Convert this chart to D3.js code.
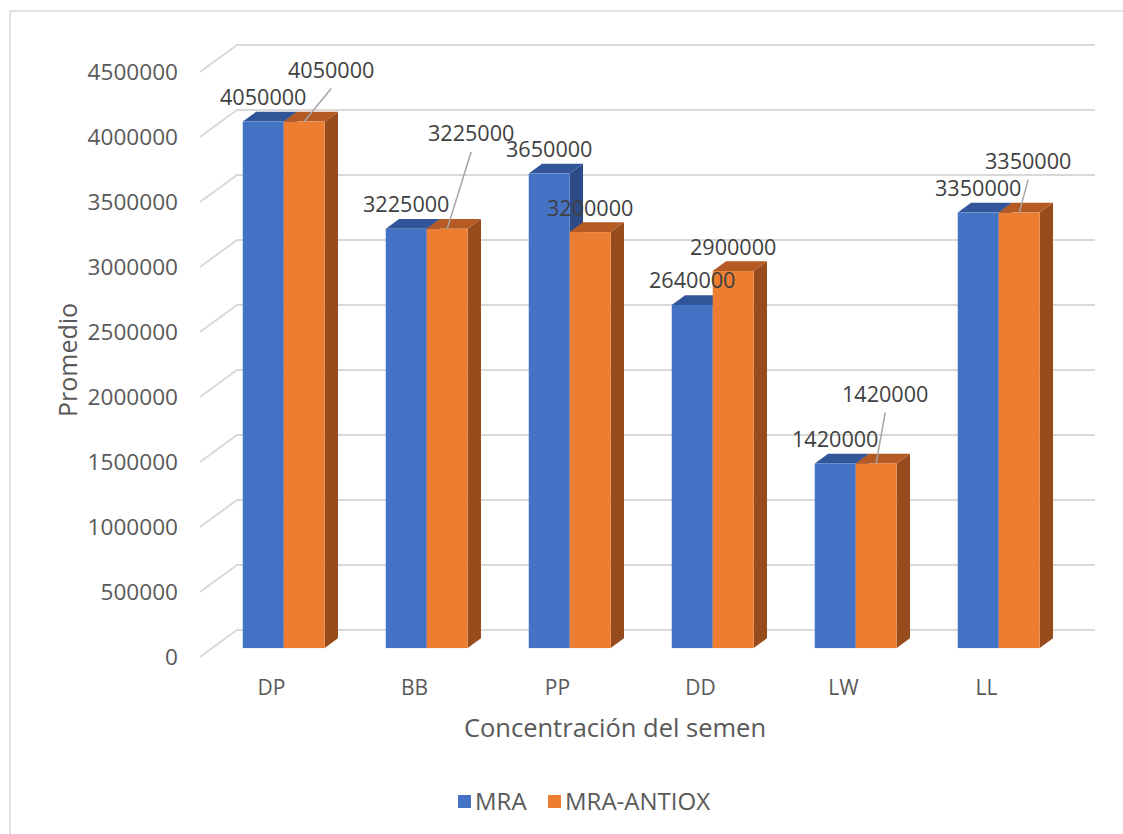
<!DOCTYPE html>
<html lang="es">
<head>
  <meta charset="utf-8">
  <title>Concentración del semen</title>
  <script src="https://d3js.org/d3.v7.min.js"></script>
  <style>
    body { margin:0; background:#fff; }
    text { font-family: "Open Sans", sans-serif; }
  </style>
</head>
<body>
<script>
// datos
var categories = ['DP','BB','PP','DD','LW','LL'];
var seriesNames = ['MRA','MRA-ANTIOX'];
var mra = [4050000, 3225000, 3650000, 2640000, 1420000, 3350000];
var mraAntiox = [4050000, 3225000, 3200000, 2900000, 1420000, 3350000];
var yTicks = [0,500000,1000000,1500000,2000000,2500000,3000000,3500000,4000000,4500000];

// etiquetas movidas a mano (serie 1) -> [dx, dy] respecto a la posición normal
var movedLabels = { 'MRA-ANTIOX|DP':[27,-27], 'MRA-ANTIOX|BB':[24,-71], 'MRA-ANTIOX|LW':[9,-45], 'MRA-ANTIOX|LL':[9,-27] };

var width = 1123, height = 834;
var DX = 37, DY = 27;          // profundidad del "3D"
var z1 = 0.33, z2 = 0.69;      // profundidad de las barras

var colors = {
  'MRA':        { front:'#4472C4', top:'#32559A', side:'#2D4B86' },
  'MRA-ANTIOX': { front:'#ED7D31', top:'#B55A22', side:'#984C1D' }
};

var svg = d3.select('body').append('svg')
  .attr('width', width).attr('height', height);

// marco
svg.append('rect').attr('x', 10).attr('y', 11).attr('width', 1130).attr('height', 840)
  .attr('fill', 'none').attr('stroke', '#d9d9d9').attr('stroke-width', 1.5);

var x0 = d3.scaleBand().domain(categories).range([200, 1058]).paddingInner(0.427).paddingOuter(0.2135);
var x1 = d3.scaleBand().domain(seriesNames).range([0, x0.bandwidth()]);
var y = d3.scaleLinear().domain([0, 4500000]).range([657, 72]);

function P(xf, v, z) { return [xf + z*DX, y(v) - z*DY]; }

// rejilla
var grid = svg.append('g');
yTicks.forEach(function(t) {
  grid.append('polyline')
    .attr('points', [P(200, t, 0), P(200, t, 1), P(1058, t, 1)].join(' '))
    .attr('fill', 'none').attr('stroke', '#d9d9d9').attr('stroke-width', 2);
});

// eje Y
svg.append('g').selectAll('text').data(yTicks).enter().append('text')
  .attr('x', 178).attr('y', function(d){ return y(d); })
  .attr('dy', '0.35em').attr('text-anchor', 'end')
  .attr('font-size', 22.6).attr('fill', '#595959')
  .text(function(d){ return d; });

// eje X
svg.append('g').selectAll('text').data(categories).enter().append('text')
  .attr('x', function(d){ return x0(d) + x0.bandwidth()/2; }).attr('y', 688)
  .attr('dy', '0.35em').attr('text-anchor', 'middle')
  .attr('font-size', 21).attr('fill', '#595959')
  .text(function(d){ return d; });

// barras
var bars = [];
categories.forEach(function(c, i) {
  bars.push({ cat:c, s:'MRA', v:mra[i] });
  bars.push({ cat:c, s:'MRA-ANTIOX', v:mraAntiox[i] });
});

var gb = svg.append('g');
bars.forEach(function(d) {
  var xl = x0(d.cat) + x1(d.s), xr = xl + x1.bandwidth();
  var col = colors[d.s];
  // lado
  gb.append('polygon').attr('fill', col.side)
    .attr('points', [P(xr, 0, z1), P(xr, 0, z2), P(xr, d.v, z2), P(xr, d.v, z1)].join(' '));
  // tapa
  gb.append('polygon').attr('fill', col.top)
    .attr('points', [P(xl, d.v, z1), P(xl, d.v, z2), P(xr, d.v, z2), P(xr, d.v, z1)].join(' '));
  // frente
  var a = P(xl, d.v, z1), b = P(xr, 0, z1);
  gb.append('rect').attr('fill', col.front)
    .attr('x', a[0]).attr('y', a[1]).attr('width', b[0]-a[0]).attr('height', b[1]-a[1]);
});

// etiquetas de datos
var gl = svg.append('g');
bars.forEach(function(d) {
  var xl = x0(d.cat) + x1(d.s);
  var top = P(xl + x1.bandwidth()/2, d.v, z1);
  var lx = top[0], ly = top[1] - 24;
  var m = movedLabels[d.s + '|' + d.cat];
  if (m) {
    lx += m[0]; ly += m[1];
    gl.append('line').attr('x1', lx).attr('y1', ly + 18).attr('x2', top[0]).attr('y2', top[1])
      .attr('stroke', '#a6a6a6').attr('stroke-width', 1.5);
  }
  gl.append('text').attr('x', lx).attr('y', ly).attr('dy', '0.35em')
    .attr('text-anchor', 'middle').attr('font-size', 21.6).attr('fill', '#404040')
    .text(d.v);
});

// títulos de ejes
svg.append('text').attr('x', 615).attr('y', 728).attr('dy', '0.35em')
  .attr('text-anchor', 'middle').attr('font-size', 25.5).attr('fill', '#595959')
  .text('Concentración del semen');
svg.append('text').attr('transform', 'translate(68,360) rotate(-90)').attr('dy', '0.35em')
  .attr('text-anchor', 'middle').attr('font-size', 25).attr('fill', '#595959')
  .text('Promedio');

// leyenda
var legX = [458, 548];
var lg = svg.append('g');
seriesNames.forEach(function(s, i) {
  lg.append('rect').attr('x', legX[i]).attr('y', 795).attr('width', 13).attr('height', 13)
    .attr('fill', colors[s].front);
  lg.append('text').attr('x', legX[i] + 17).attr('y', 802).attr('dy', '0.35em')
    .attr('font-size', 24).attr('fill', '#595959').text(s);
});
</script>
</body>
</html>
